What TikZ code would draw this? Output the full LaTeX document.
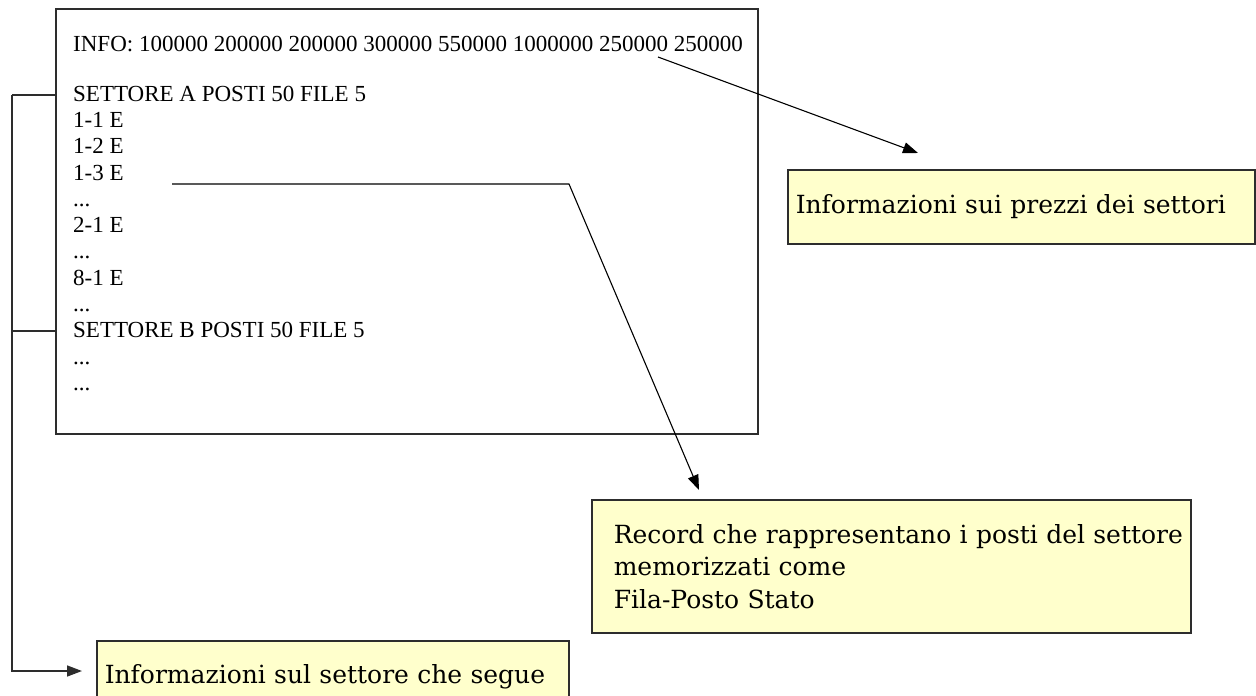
\documentclass[tikz,border=0pt]{standalone}
\usepackage{fontspec}
\setmainfont{Liberation Serif}
\newfontfamily\labelfont{DejaVu Serif}
\usetikzlibrary{arrows.meta}
\definecolor{notefill}{RGB}{255,255,204}
\definecolor{edge}{RGB}{45,45,45}
\begin{document}
\begin{tikzpicture}[x=1pt,y=-1pt,
  filebox/.style={draw=edge,line width=1.5pt,fill=white,rectangle,inner sep=0pt,anchor=north west},
  note/.style={draw=edge,line width=1.5pt,fill=notefill,rectangle,anchor=north west,align=left,
     font=\labelfont\fontsize{25}{32.5}\selectfont,inner ysep=0pt},
  rowtxt/.style={anchor=base west,inner sep=0pt,font=\fontsize{23}{26}\selectfont},
  conn/.style={draw=black,line width=1.1pt},
  bracket/.style={draw=edge,line width=1.5pt},
  tip/.style={-{Triangle[length=15pt,width=11pt]}}]
\useasboundingbox (0,0) rectangle (1256,696);
\clip (0,0) rectangle (1256,696);
\fill[white] (0,0) rectangle (1256,696);

% main file box
\node[filebox,minimum width=702pt,minimum height=425pt] (file) at (55,8) {};

% file lines
\node[rowtxt] (l0) at (73,51) {INFO: 100000 200000 200000 300000 550000 1000000 250000 250000};
\node[rowtxt] (l1) at (73,101) {SETTORE A POSTI 50 FILE 5};
\node[rowtxt] (l2) at (73,127) {1-1 E};
\node[rowtxt] (l3) at (73,153) {1-2 E};
\node[rowtxt] (l4) at (73,180) {1-3 E};
\node[rowtxt] (l5) at (73,206) {...};
\node[rowtxt] (l6) at (73,232) {2-1 E};
\node[rowtxt] (l7) at (73,258) {...};
\node[rowtxt] (l8) at (73,285) {8-1 E};
\node[rowtxt] (l9) at (73,311) {...};
\node[rowtxt] (l10) at (73,337) {SETTORE B POSTI 50 FILE 5};
\node[rowtxt] (l11) at (73,364) {...};
\node[rowtxt] (l12) at (73,390) {...};

% notes
\node[note,text width=451pt,inner xsep=8pt,minimum height=74pt] (prezzi) at (787,169)
  {Informazioni sui prezzi dei settori};
\node[note,text width=555pt,inner xsep=22pt,minimum height=133pt] (record) at (591,499)
  {\mbox{Record che rappresentano i posti del settore}\\\mbox{memorizzati come}\\\mbox{Fila-Posto Stato}};
\node[note,text width=456pt,inner xsep=8pt,minimum height=72pt] (segue) at (96,640)
  {Informazioni sul settore che segue};

% connectors
\coordinate (p0) at (658,57);
\coordinate (p1) at (918,153);
\draw[conn,tip] (p0) -- (p1);

\coordinate (r0) at (172,184);
\coordinate (r1) at (569,184);
\coordinate (r2) at (699,490);
\draw[conn,tip] (r0) -- (r1) -- (r2);

\coordinate (b0) at (file.north west |- 0,95);
\coordinate (b1) at (file.north west |- 0,331);
\coordinate (bc) at (12,95);
\coordinate (bd) at (12,331);
\coordinate (be) at (12,671);
\coordinate (bf) at (82,671);
\draw[bracket] (b0) -- (bc);
\draw[bracket] (b1) -- (bd);
\draw[bracket,tip] (bc) -- (be) -- (bf);
\end{tikzpicture}
\end{document}
